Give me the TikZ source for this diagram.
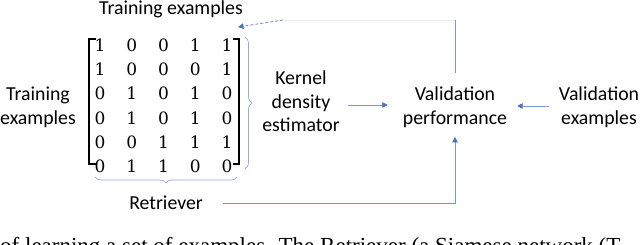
\documentclass[tikz,border=0pt]{standalone}
\usepackage{fontspec}
\setsansfont{Carlito}
\newfontfamily\capfont{Liberation Serif}
\newfontfamily\digitfont{DejaVu Serif}
\usetikzlibrary{arrows.meta,decorations.pathreplacing,calc,matrix}
\definecolor{lineblue}{RGB}{122,148,214}
\definecolor{tipblue}{RGB}{68,114,196}
\definecolor{bracegray}{RGB}{150,168,214}
\definecolor{faintgray}{RGB}{236,236,238}
\begin{document}
\begin{tikzpicture}[x=1pt,y=-1pt,
  lbl/.style={font=\sffamily\fontsize{19.8}{23.5}\selectfont, align=center, inner sep=2pt},
  conn/.style={draw=lineblue, line width=0.9pt, -{Triangle[length=5.5pt,width=5.5pt,color=tipblue]}},
  plain/.style={draw=lineblue, line width=0.9pt},
  faint/.style={draw=faintgray, line width=0.8pt},
  bracketline/.style={draw=black, line width=1.4pt},
  curly/.style={draw=bracegray, line width=0.7pt, decorate, decoration={brace, amplitude=#1}},
  cell/.style={font=\digitfont\fontsize{17}{17}\selectfont, minimum width=31.75pt, minimum height=23.9pt, inner sep=0pt}
]
\useasboundingbox (0,0) rectangle (640,245);

% labels
\node[lbl, anchor=base] (te) at (171,15) {Training examples};
\node[lbl] (tl) at (38,107.5) {Training\\examples};
\node[lbl] (kde) at (301,101.5) {Kernel\\density\\estimator};
\node[lbl] (vp) at (455,107) {Validation\\performance};
\node[lbl] (ve) at (599,107) {Validation\\examples};
\node[lbl, anchor=base] (ret) at (166,210) {Retriever};

% matrix
\matrix (mat) [matrix of nodes, nodes={cell}, column sep=0pt, row sep=0pt, inner sep=0pt] at (163.5,105.75) {
1 & 0 & 0 & 1 & 1 \\
1 & 0 & 0 & 0 & 1 \\
0 & 1 & 0 & 1 & 0 \\
0 & 1 & 0 & 1 & 0 \\
0 & 0 & 1 & 1 & 1 \\
0 & 1 & 1 & 0 & 0 \\
};
\draw[bracketline] (95.5,39) -- (89,39) -- (89,164) -- (95.5,164);
\draw[bracketline] (232.5,39) -- (239,39) -- (239,164) -- (232.5,164);

% braces
\draw[curly=7pt] (245,37) -- (245,169);
\draw[curly=6pt] (237,177) -- (95,177);

% connectors
\coordinate (mid) at (0,105);
\draw[conn, shorten <=6pt] (kde.east |- mid) -- ([xshift=-13pt]vp.west |- mid);
\coordinate (mid2) at (0,106);
\draw[conn] ([xshift=-8pt]ve.west |- mid2) -- ([xshift=8pt]vp.east |- mid2);
\draw[conn, shorten <=18pt, shorten >=7.5pt] (ret.east) -| (vp.south);
\coordinate (c1) at (455,20);
\coordinate (c2) at (283,20);
\coordinate (tip) at (238,27);
\draw[plain, shorten <=12pt] (vp.north) -- (c1);
\draw[faint] (c1) -- (c2);
\draw[conn, dash pattern=on 3pt off 2pt] (c2) -- (tip);

% cut-off caption line
\node[font=\capfont\fontsize{23}{23}\selectfont, anchor=base west, inner sep=0pt] (cap) at (0,254) {of learning a set of examples. The Retriever (a Siamese network (T};
\end{tikzpicture}
\end{document}
